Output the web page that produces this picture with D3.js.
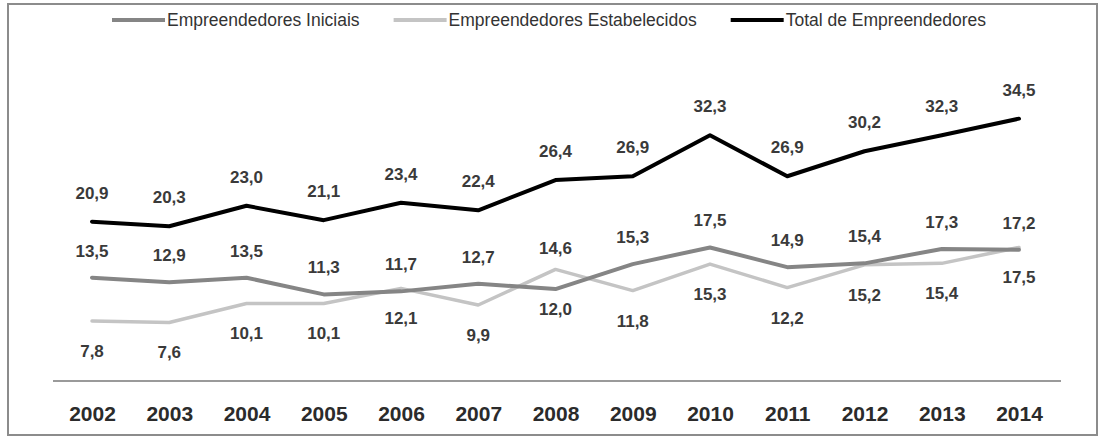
<!DOCTYPE html>
<html>
<head>
<meta charset="utf-8">
<script src="https://cdn.jsdelivr.net/npm/d3@7"></script>
<style>
  body { margin: 0; background: #fff; }
  svg { display: block; }
  text { font-family: "Liberation Sans", Arial, sans-serif; }
</style>
</head>
<body>
<svg id="viz" width="1104" height="439"></svg>
<script>
// data
var years = ["2002", "2003", "2004", "2005", "2006", "2007", "2008", "2009", "2010", "2011", "2012", "2013", "2014"];
var iniciais = [13.5, 12.9, 13.5, 11.3, 11.7, 12.7, 12.0, 15.3, 17.5, 14.9, 15.4, 17.3, 17.2];
var estabelecidos = [7.8, 7.6, 10.1, 10.1, 12.1, 9.9, 14.6, 11.8, 15.3, 12.2, 15.2, 15.4, 17.5];
var total = [20.9, 20.3, 23.0, 21.1, 23.4, 22.4, 26.4, 26.9, 32.3, 26.9, 30.2, 32.3, 34.5];
var seriesNames = ["Empreendedores Iniciais", "Empreendedores Estabelecidos", "Total de Empreendedores"];

var width = 1104, height = 439;
var svg = d3.select("#viz");

var series = [
    { name: seriesNames[0], values: iniciais, color: "#858585", width: 4, side: "above" },
    { name: seriesNames[1], values: estabelecidos, color: "#c4c4c4", width: 3.5, side: "below" },
    { name: seriesNames[2], values: total, color: "#000000", width: 4, side: "top" }
];

var x = d3.scalePoint().domain(years).range([92, 1019]);
var y = d3.scaleLinear().domain([0, 40]).range([380, 77]);

// outer frame
svg.append("rect")
    .attr("x", 8).attr("y", 4)
    .attr("width", 1089).attr("height", 431)
    .attr("fill", "none")
    .attr("stroke", "#8c8c8c")
    .attr("stroke-width", 2);

// x axis line + year labels
var xAxis = d3.axisBottom(x).tickSize(0).tickPadding(0);
var axisG = svg.append("g").attr("transform", "translate(0,381)").call(xAxis);
axisG.select(".domain").remove();
axisG.append("line")
    .attr("x1", 53).attr("x2", 1061)
    .attr("stroke", "#9a9a9a")
    .attr("stroke-width", 2);
axisG.selectAll(".tick text")
    .attr("y", 40).attr("dy", null)
    .attr("fill", "#2b2b2b")
    .style("font-size", "21px")
    .style("font-weight", "bold")
    .style("font-family", "'Liberation Sans', Arial, sans-serif");

var line = d3.line()
    .x(function (d, i) { return x(years[i]); })
    .y(function (d) { return y(d); });

// lines (Estabelecidos under Iniciais, Total on top)
[series[1], series[0], series[2]].forEach(function (s) {
    svg.append("path")
        .datum(s.values)
        .attr("d", line)
        .attr("fill", "none")
        .attr("stroke", s.color)
        .attr("stroke-width", s.width)
        .attr("stroke-linejoin", "round")
        .attr("stroke-linecap", "round");
});

// label offset: Iniciais above, Estabelecidos below, except where
// Estabelecidos clearly sits over Iniciais (then the two labels swap)
function labelY(s, d, i) {
    if (s.side === "top") return y(d) - 23;
    var swapped = estabelecidos[i] - iniciais[i] > 1;
    if (!swapped) return s.side === "above" ? y(d) - 21 : y(d) + 36;
    return s.side === "below" ? y(d) - 15 : y(d) + 26;
}

// data labels
series.forEach(function (s) {
    svg.append("g").selectAll("text")
        .data(s.values)
        .enter()
        .append("text")
        .attr("x", function (d, i) { return x(years[i]); })
        .attr("y", function (d, i) { return labelY(s, d, i); })
        .attr("text-anchor", "middle")
        .attr("fill", "#3a3a3a")
        .style("font-size", "17px")
        .style("font-weight", "bold")
        .text(function (d) { return d.toFixed(1).replace(".", ","); });
});

// legend
var legend = svg.append("g").attr("transform", "translate(0,20)");
var lx = 112;
series.forEach(function (s) {
    legend.append("line")
        .attr("x1", lx).attr("x2", lx + 53)
        .attr("stroke", s.color)
        .attr("stroke-width", 4);
    var t = legend.append("text")
        .attr("x", lx + 55).attr("y", 6)
        .attr("fill", "#333")
        .style("font-size", "17.5px")
        .text(s.name);
    lx += 55 + t.node().getComputedTextLength() + 34;
});
</script>
</body>
</html>
